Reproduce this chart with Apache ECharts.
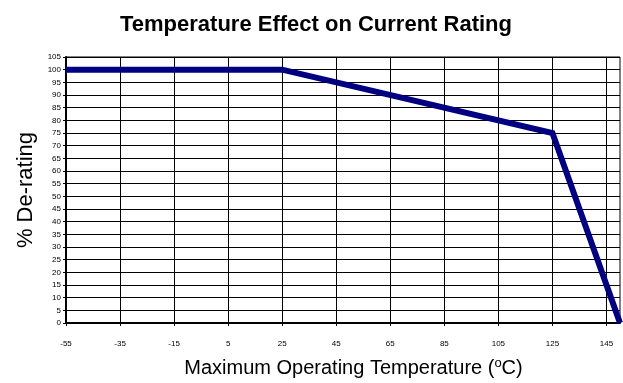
<!DOCTYPE html>
<html>
<head>
<meta charset="utf-8">
<script src="https://cdn.jsdelivr.net/npm/echarts@6/dist/echarts.min.js"></script>
<style>
  html, body { margin: 0; padding: 0; background: #fff; }
  #chart { width: 623px; height: 383px; }
</style>
</head>
<body>
<div id="chart"></div>
<script>
// Derating curve: temperature (°C) vs. allowed current (%)
const temperatures = [-55, 25, 125, 150];
const derating = [100, 100, 75, 0];
const xTickValues = [-55, -35, -15, 5, 25, 45, 65, 85, 105, 125, 145];

const font = 'Liberation Sans, Arial, sans-serif';
const chart = echarts.init(document.getElementById('chart'), null, { renderer: 'canvas' });

chart.setOption({
  animation: false,
  backgroundColor: '#ffffff',
  title: {
    text: 'Temperature Effect on Current Rating',
    left: 311,
    textAlign: 'center',
    top: 9,
    textStyle: { fontFamily: font, fontWeight: 'bold', fontSize: 22, color: '#000' }
  },
  grid: { left: 66, right: 3, top: 57, bottom: 56, show: true, borderColor: '#000', borderWidth: 1, backgroundColor: 'transparent' },
  xAxis: {
    type: 'value',
    min: -55,
    max: 150,
    name: 'Maximum Operating Temperature ({sup|o}C)',
    nameLocation: 'middle',
    nameGap: 34,
    nameTextStyle: {
      fontFamily: font, fontSize: 20, color: '#000', padding: [0, 0, 0, 21],
      rich: { sup: { fontFamily: font, fontSize: 13, color: '#000', verticalAlign: 'top', padding: [0, 0, 9, 0] } }
    },
    axisLine: { show: true, onZero: false, lineStyle: { color: '#000', width: 2 } },
    axisTick: { show: true, customValues: xTickValues, length: 3, lineStyle: { color: '#000' } },
    axisLabel: { customValues: xTickValues, fontFamily: font, fontSize: 8, color: '#000', margin: 17 },
    splitLine: { show: true, lineStyle: { color: '#000', width: 1 } }
  },
  yAxis: {
    type: 'value',
    min: 0,
    max: 105,
    interval: 5,
    name: '% De-rating',
    nameLocation: 'middle',
    nameRotate: 90,
    nameGap: 29,
    nameTextStyle: { fontFamily: font, fontSize: 22, color: '#000' },
    axisLine: { show: true, onZero: false, lineStyle: { color: '#000', width: 2 } },
    axisTick: { show: true, length: 3, lineStyle: { color: '#000' } },
    axisLabel: { fontFamily: font, fontSize: 8, color: '#000', margin: 5 },
    splitLine: { show: true, lineStyle: { color: '#000', width: 1 } }
  },
  series: [{
    type: 'line',
    data: temperatures.map((t, i) => [t, derating[i]]),
    showSymbol: false,
    symbol: 'none',
    clip: false,
    lineStyle: { color: '#000080', width: 6, join: 'miter' }
  }]
});
</script>
</body>
</html>
